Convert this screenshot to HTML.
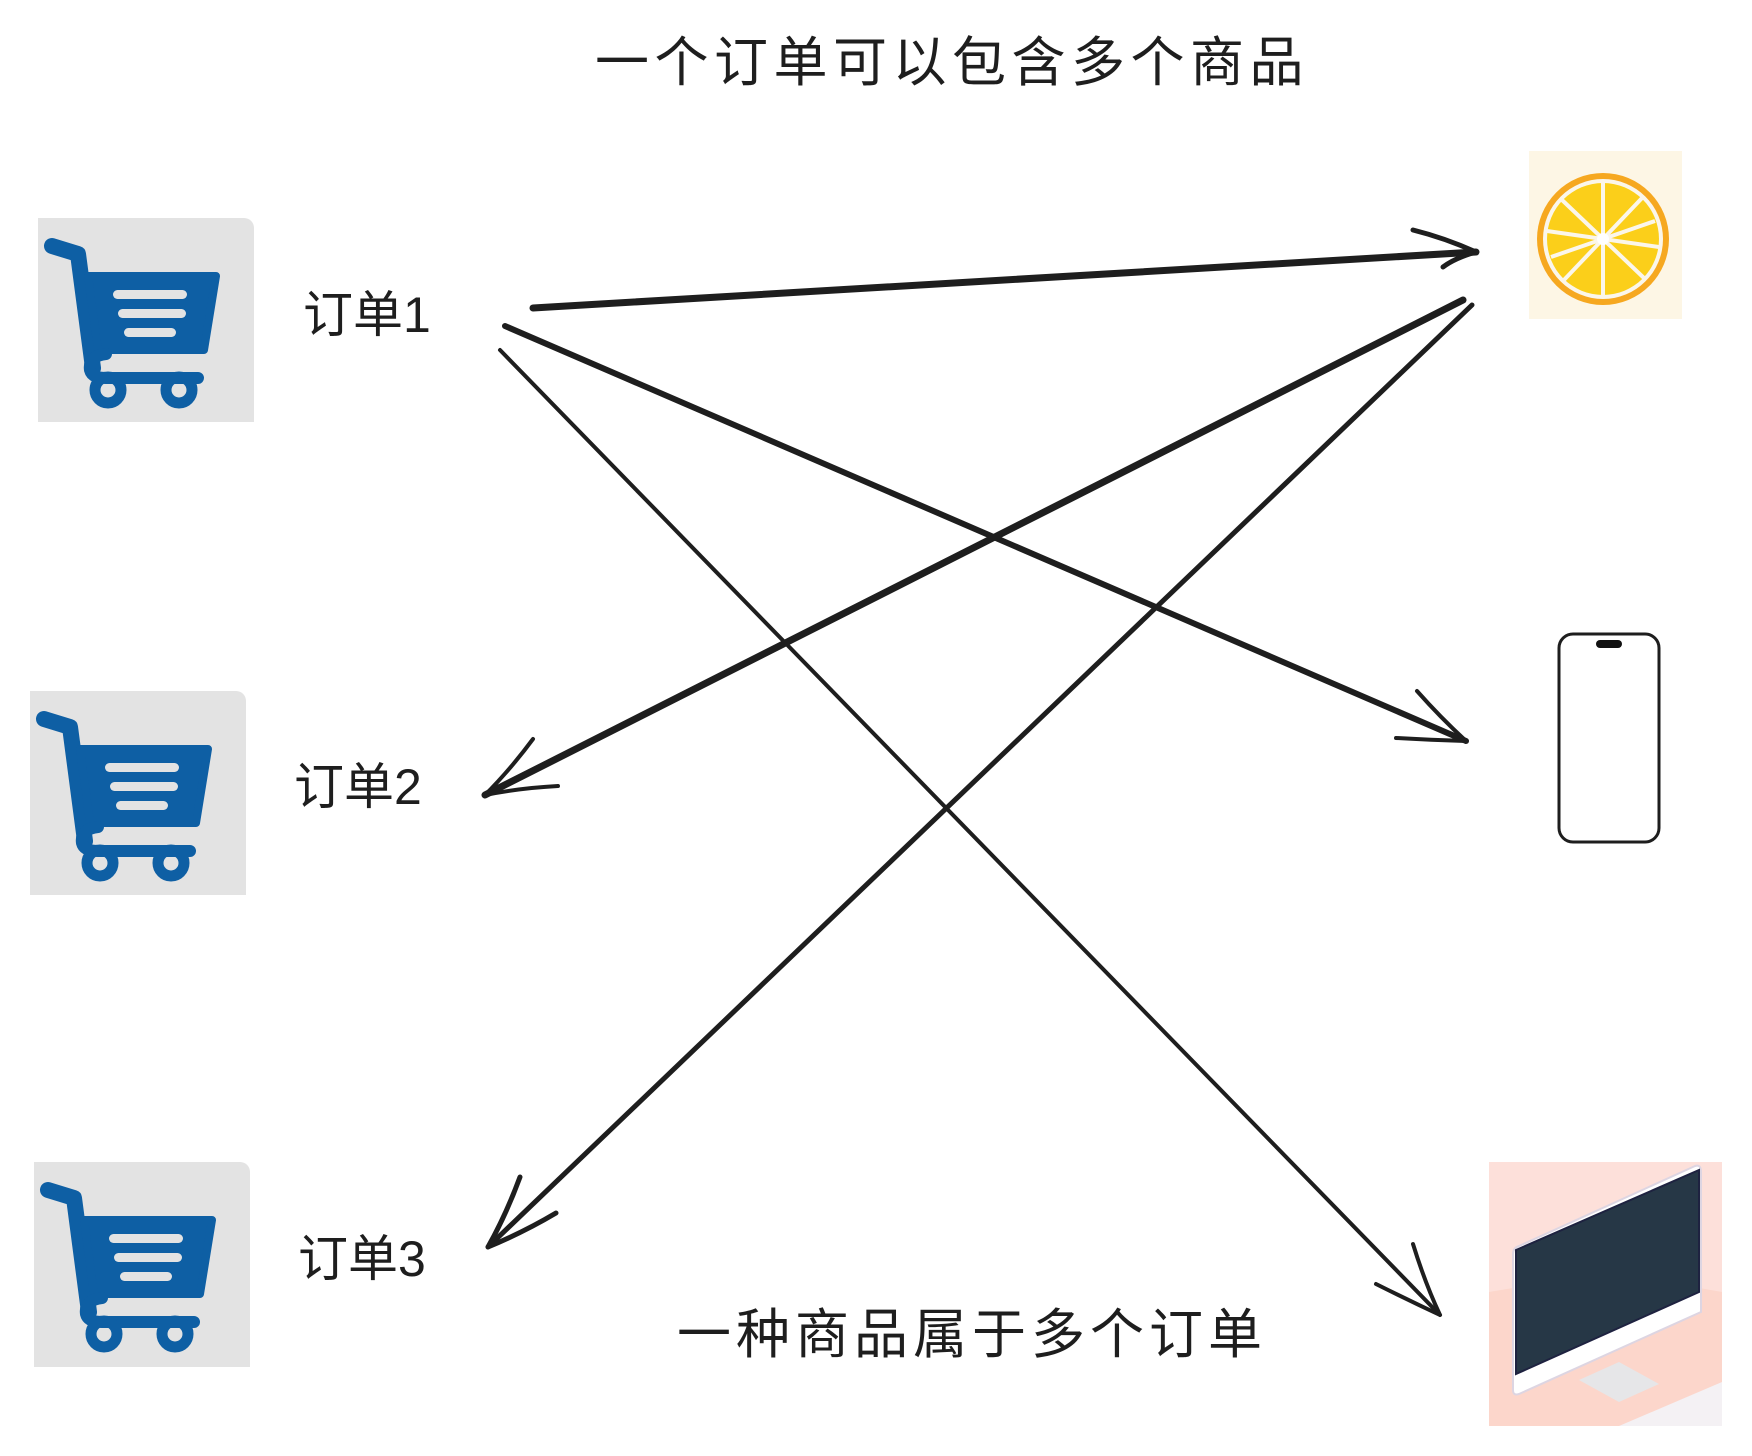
<!DOCTYPE html>
<html><head><meta charset="utf-8"><style>
html,body{margin:0;padding:0;background:#fff;}
body{width:1752px;height:1456px;position:relative;overflow:hidden;font-family:"Liberation Sans","Noto Sans CJK SC",sans-serif;color:#1e1e1e;}
.t{position:absolute;white-space:nowrap;line-height:1;}
.box{position:absolute;background:#e3e3e3;border-top-right-radius:10px;}
</style></head><body>
<div class="t" style="left:595px;top:36px;font-size:54px;letter-spacing:5.5px;">一个订单可以包含多个商品</div>
<div class="t" style="left:677px;top:1308px;font-size:54px;letter-spacing:5px;">一种商品属于多个订单</div>
<div class="t" style="left:303px;top:290px;font-size:50px;">订单1</div>
<div class="t" style="left:294px;top:762px;font-size:50px;">订单2</div>
<div class="t" style="left:298px;top:1234px;font-size:50px;">订单3</div>

<svg width="0" height="0" style="position:absolute"><defs>
<g id="cart">
<path d="M14,28 L40,36 L55,150" stroke="#0e5fa4" stroke-width="16" fill="none" stroke-linecap="round" stroke-linejoin="round"/>
<path d="M50,58 L178,58 L166,132 L60,132 Z" fill="#0e5fa4" stroke="#0e5fa4" stroke-width="8" stroke-linejoin="round"/>
<rect x="75" y="72" width="74" height="9" rx="4.5" fill="#e3e3e3"/>
<rect x="80" y="91" width="68" height="9" rx="4.5" fill="#e3e3e3"/>
<rect x="86" y="110" width="52" height="9" rx="4.5" fill="#e3e3e3"/>
<path d="M68,136 Q50,138 52,152 Q54,160 68,160 L160,160" stroke="#0e5fa4" stroke-width="12" fill="none" stroke-linecap="round"/>
<circle cx="70" cy="172" r="13" fill="none" stroke="#0e5fa4" stroke-width="11"/>
<circle cx="141" cy="172" r="13" fill="none" stroke="#0e5fa4" stroke-width="11"/>
</g></defs></svg>

<div class="box" style="left:38px;top:218px;width:216px;height:204px;"><svg width="216" height="204"><use href="#cart"/></svg></div>
<div class="box" style="left:30px;top:691px;width:216px;height:204px;"><svg width="216" height="204"><use href="#cart"/></svg></div>
<div class="box" style="left:34px;top:1162px;width:216px;height:205px;"><svg width="216" height="204"><use href="#cart"/></svg></div>

<svg style="position:absolute;left:1529px;top:151px" width="153" height="168">
<rect width="153" height="168" fill="#fdf6e5"/>
<circle cx="74" cy="88" r="66" fill="#f6a820"/>
<circle cx="74" cy="88" r="60" fill="#fbf6ea"/>
<circle cx="74" cy="88" r="56" fill="#fbcf1a"/>
<g stroke="#fbf6ea" stroke-width="4">
<line x1="74" y1="88" x2="74" y2="30"/><line x1="74" y1="88" x2="74" y2="146"/>
<line x1="74" y1="88" x2="126" y2="70"/><line x1="74" y1="88" x2="22" y2="106"/>
<line x1="74" y1="88" x2="114" y2="46"/><line x1="74" y1="88" x2="34" y2="130"/>
<line x1="74" y1="88" x2="32" y2="48"/><line x1="74" y1="88" x2="116" y2="128"/>
<line x1="74" y1="88" x2="18" y2="80"/><line x1="74" y1="88" x2="130" y2="96"/>
</g>
<circle cx="74" cy="88" r="6" fill="#fff"/>
</svg>

<svg style="position:absolute;left:1556px;top:631px" width="106" height="214">
<rect x="3" y="3" width="100" height="208" rx="14" fill="#fff" stroke="#1e1e1e" stroke-width="3"/>
<rect x="40" y="9" width="26" height="8" rx="4" fill="#111"/>
</svg>

<svg style="position:absolute;left:1489px;top:1162px" width="233" height="264">
<rect width="233" height="264" fill="#fde0da"/>
<path d="M0,130 L120,110 L233,130 L233,264 L0,264 Z" fill="#fcd6cb"/>
<path d="M30,84 L206,4 Q212,2 212,10 L212,150 L30,232 Q24,234 24,228 L24,92 Q24,86 30,84Z" fill="#fff" stroke="#ddd5e2" stroke-width="2"/>
<path d="M27,88 L210,8 L210,130 L27,212Z" fill="#263746" stroke="#1e2240" stroke-width="2"/>
<path d="M90,218 L130,200 L170,222 L130,240Z" fill="#e6e6e8"/>
<path d="M130,264 L233,220 L233,264Z" fill="#f4f1f4"/>
</svg>

<svg style="position:absolute;left:0;top:0" width="1752" height="1456" fill="none" stroke="#1e1e1e" stroke-linecap="round" stroke-linejoin="round">
<path d="M533,308 L1476,252" stroke-width="7"/>
<path d="M1413,230 Q1445,238 1476,252 Q1455,258 1443,267" stroke-width="5"/>
<path d="M505,326 L1466,741" stroke-width="6"/>
<path d="M1417,691 Q1440,717 1466,741 Q1430,740 1396,738" stroke-width="4"/>
<path d="M500,350 L1440,1315" stroke-width="4"/>
<path d="M1413,1244 Q1425,1283 1440,1315 Q1408,1300 1376,1284" stroke-width="4"/>
<path d="M1463,300 L485,795" stroke-width="7"/>
<path d="M533,739 Q510,770 485,795 Q520,788 558,786" stroke-width="4"/>
<path d="M1472,305 L488,1247" stroke-width="5"/>
<path d="M520,1177 Q506,1215 488,1247 Q524,1232 556,1213" stroke-width="5"/>
</svg>
</body></html>
